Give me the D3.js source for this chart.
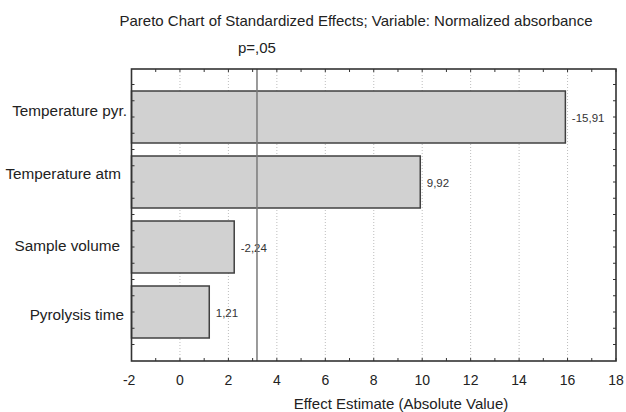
<!DOCTYPE html>
<html>
<head>
<meta charset="utf-8">
<script src="https://cdn.jsdelivr.net/npm/d3@7"></script>
<style>
  body { margin: 0; background: #fff; }
  svg { font-family: "Liberation Sans", Arial, sans-serif; }
</style>
</head>
<body>
<div id="chart"></div>
<script>
// effects, sorted as in the chart (top to bottom)
const factors = ['Temperature pyr.', 'Temperature atm', 'Sample volume', 'Pyrolysis time'];
const effects = [-15.91, 9.92, -2.24, 1.21];
const xTicks = [-2, 0, 2, 4, 6, 8, 10, 12, 14, 16, 18];
const pCrit = 3.18; // p=,05 line

// small nudges of the factor labels, [dx, dy] (as placed in the original)
const labelNudge = [[2, -1], [-4, -3], [-5, 4], [-1, 8]];

const width = 626;
const height = 412;
const plotL = 131.5, plotR = 616, plotT = 69, plotB = 361;

const svg = d3.select('#chart').append('svg')
  .attr('width', width)
  .attr('height', height);

const x = d3.scaleLinear().domain([-2, 18]).range([plotL, plotR]);
const y = d3.scaleBand().domain(factors).range([84.5, 344.5]).paddingInner(0.2).paddingOuter(0.1);

const fmt = (v) => d3.format('.2f')(v).replace('.', ',').replace('−', '-');

// grid
svg.append('g')
  .selectAll('line')
  .data(xTicks.slice(1, -1))
  .join('line')
  .attr('x1', (d) => x(d)).attr('x2', (d) => x(d))
  .attr('y1', plotT).attr('y2', plotB)
  .attr('stroke', '#bdbdbd')
  .attr('stroke-width', 1)
  .attr('stroke-dasharray', '1,2');

// bars
svg.append('g')
  .selectAll('rect')
  .data(factors)
  .join('rect')
  .attr('x', x(-2))
  .attr('y', (d) => y(d))
  .attr('width', (d, i) => x(Math.abs(effects[i])) - x(-2))
  .attr('height', y.bandwidth())
  .attr('fill', '#d1d1d1')
  .attr('stroke', '#404040')
  .attr('stroke-width', 1.5);

// value labels
svg.append('g')
  .selectAll('text')
  .data(factors)
  .join('text')
  .attr('x', (d, i) => x(Math.abs(effects[i])) + 6.5)
  .attr('y', (d) => y(d) + y.bandwidth() / 2 + 4.5)
  .attr('font-size', 11.5)
  .attr('fill', '#333')
  .text((d, i) => fmt(effects[i]));

// p=,05 line
svg.append('line')
  .attr('x1', x(pCrit)).attr('x2', x(pCrit))
  .attr('y1', plotT).attr('y2', plotB)
  .attr('stroke', '#7a7a7a')
  .attr('stroke-width', 1.5);

// ticks on frame
const minor = d3.range(-2, 18.01, 1);
const tk = svg.append('g').attr('stroke', '#333').attr('stroke-width', 1);
tk.selectAll('.tb').data(minor).join('line')
  .attr('x1', (d) => x(d)).attr('x2', (d) => x(d))
  .attr('y1', plotB).attr('y2', plotB - 3);
tk.selectAll('.tt').data(minor).join('line')
  .attr('x1', (d) => x(d)).attr('x2', (d) => x(d))
  .attr('y1', plotT).attr('y2', plotT + 3);
const step = y.step() / 4;
const y0 = y(factors[0]) - y.step() * y.paddingInner() / 2;
const yTk = d3.range(-1, 18).map((k) => y0 + k * step).filter((v) => v > plotT + 2 && v < plotB - 2);
tk.selectAll('.tl').data(yTk).join('line')
  .attr('x1', plotL).attr('x2', plotL + 3)
  .attr('y1', (d) => d).attr('y2', (d) => d);
tk.selectAll('.tr').data(yTk).join('line')
  .attr('x1', plotR).attr('x2', plotR - 3)
  .attr('y1', (d) => d).attr('y2', (d) => d);

// frame
svg.append('rect')
  .attr('x', plotL).attr('y', plotT)
  .attr('width', plotR - plotL).attr('height', plotB - plotT)
  .attr('fill', 'none')
  .attr('stroke', '#333')
  .attr('stroke-width', 1.6);

// x tick labels (digits centred on the tick, minus sign hangs left)
svg.append('g')
  .selectAll('text')
  .data(xTicks)
  .join('text')
  .attr('x', (d) => d < 0 ? x(d) + 3.9 : x(d))
  .attr('y', 385)
  .attr('text-anchor', (d) => d < 0 ? 'end' : 'middle')
  .attr('font-size', 14)
  .attr('fill', '#222')
  .text((d) => String(d));

// category labels
svg.append('g')
  .selectAll('text')
  .data(factors)
  .join('text')
  .attr('x', (d, i) => 125 + labelNudge[i][0])
  .attr('y', (d, i) => y(d) + y.bandwidth() / 2 + 5.5 + labelNudge[i][1] - 6)
  .attr('text-anchor', 'end')
  .attr('font-size', 15.3)
  .attr('fill', '#222')
  .text((d) => d);

// titles
svg.append('text')
  .attr('x', 356).attr('y', 26)
  .attr('text-anchor', 'middle')
  .attr('font-size', 15)
  .attr('fill', '#222')
  .text('Pareto Chart of Standardized Effects; Variable: Normalized absorbance');

svg.append('text')
  .attr('x', x(pCrit)).attr('y', 53)
  .attr('text-anchor', 'middle')
  .attr('font-size', 15)
  .attr('fill', '#222')
  .text('p=,05');

svg.append('text')
  .attr('x', 401).attr('y', 409)
  .attr('text-anchor', 'middle')
  .attr('font-size', 15)
  .attr('fill', '#222')
  .text('Effect Estimate (Absolute Value)');
</script>
</body>
</html>
